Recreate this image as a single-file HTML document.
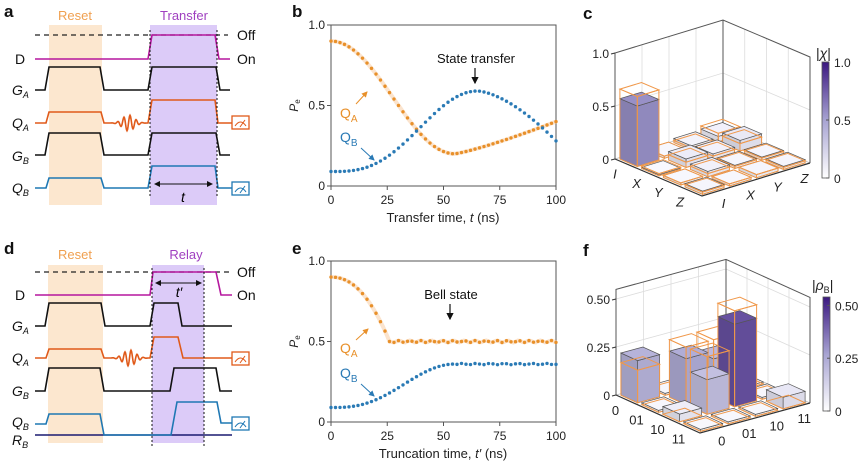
<!DOCTYPE html>
<html><head><meta charset="utf-8">
<style>
html,body{margin:0;padding:0;background:#fff;}
svg{display:block;font-family:"Liberation Sans","DejaVu Sans",sans-serif;}
</style></head>
<body>
<svg id="s" width="865" height="466" viewBox="0 0 865 466" xmlns="http://www.w3.org/2000/svg">
<defs>
<linearGradient id="cb" x1="0" y1="1" x2="0" y2="0">
<stop offset="0" stop-color="#ffffff"/><stop offset="0.5" stop-color="#a7a3d2"/><stop offset="1" stop-color="#3b1880"/>
</linearGradient>
<marker id="ah" markerWidth="6" markerHeight="6" refX="5" refY="3" orient="auto"><path d="M0,0 L6,3 L0,6 z" fill="#111"/></marker>
<marker id="aho" markerWidth="6" markerHeight="6" refX="5" refY="3" orient="auto"><path d="M0,0 L6,3 L0,6 z" fill="#e8902a"/></marker>
<marker id="ahb" markerWidth="6" markerHeight="6" refX="5" refY="3" orient="auto"><path d="M0,0 L6,3 L0,6 z" fill="#2a7ab5"/></marker>
<marker id="a2" markerWidth="6" markerHeight="6" refX="5" refY="3" orient="auto-start-reverse"><path d="M0,0 L6,3 L0,6 z" fill="#111"/></marker>
</defs>
<g font-weight="bold" font-size="17" fill="#111">
<text x="4" y="17">a</text><text x="292" y="17">b</text><text x="583" y="19">c</text>
<text x="4" y="254">d</text><text x="292" y="254">e</text><text x="583" y="256">f</text>
</g>
<!-- panel a -->
<rect x="49" y="25" width="53" height="180" fill="#fce7cf"/>
<rect x="150" y="25" width="67" height="180" fill="#dccbf8"/>
<text x="75" y="20" font-size="13" fill="#f0a050" text-anchor="middle">Reset</text>
<text x="184" y="20" font-size="13" fill="#a040c0" text-anchor="middle">Transfer</text>
<g fill="none" stroke-width="1.6">
<path d="M35,35 H228" stroke="#222" stroke-dasharray="5,4" stroke-width="1.2"/>
<path d="M35,59 H148 L152,35 H215 L219,59 H230" stroke="#b5179e"/>
<path d="M35,90 H45 L49,67 H100 L104,90 H148 L152,67 H216 L220,90 H230" stroke="#111"/>
<path id="qa1" stroke="#e05a1a"/>
<path d="M35,155 H45 L49,133 H100 L104,155 H148 L152,133 H216 L220,155 H230" stroke="#111"/>
<path d="M35,188 H46 L49,178 H101 L104,188 H148 L152,166 H215 L218,188 H232" stroke="#1f78b4"/>
<path d="M150,30 V198 M217,30 V198" stroke="#111" stroke-width="1" stroke-dasharray="2,2"/>
<path d="M155,184 H212" stroke="#111" stroke-width="1" marker-end="url(#a2)" marker-start="url(#a2)"/>
</g>
<text x="183" y="202" font-size="14" font-style="italic" text-anchor="middle">t</text>
<g font-size="14" fill="#111">
<text x="237" y="40">Off</text><text x="237" y="64">On</text>
<text x="15" y="64">D</text>
<text x="12" y="95" font-style="italic">G<tspan font-size="9" dy="3">A</tspan></text>
<text x="12" y="128" font-style="italic">Q<tspan font-size="9" dy="3">A</tspan></text>
<text x="12" y="161" font-style="italic">G<tspan font-size="9" dy="3">B</tspan></text>
<text x="12" y="193" font-style="italic">Q<tspan font-size="9" dy="3">B</tspan></text>
</g>
<!-- panel d -->
<rect x="48" y="265" width="55" height="178" fill="#fce7cf"/>
<rect x="152" y="265" width="52" height="178" fill="#dccbf8"/>
<text x="75" y="259" font-size="13" fill="#f0a050" text-anchor="middle">Reset</text>
<text x="186" y="259" font-size="13" fill="#a040c0" text-anchor="middle">Relay</text>
<g fill="none" stroke-width="1.6">
<path d="M35,272 H233" stroke="#222" stroke-dasharray="5,4" stroke-width="1.2"/>
<path d="M35,295 H150 L153,272 H216 L221,295 H232" stroke="#b5179e"/>
<path d="M35,326 H45 L49,303 H101 L105,326 H150 L154,303 H178 L182,326 H232" stroke="#111"/>
<path id="qa2" stroke="#e05a1a"/>
<path d="M35,391 H45 L49,368 H100 L104,391 H170 L174,368 H216 L220,391 H232" stroke="#111"/>
<path d="M35,435 H232" stroke="#1a1a70"/>
<path d="M35,424 H46 L49,414 H100 L104,435 H171 L177,402 H217 L221,423 H232" stroke="#1f78b4"/>
<path d="M152,268 V446 M204,268 V446" stroke="#111" stroke-width="1" stroke-dasharray="2,2"/>
<path d="M156,283 H201" stroke="#111" stroke-width="1" marker-end="url(#a2)" marker-start="url(#a2)"/>
</g>
<text x="179" y="297" font-size="14" font-style="italic" text-anchor="middle">t′</text>
<g font-size="14" fill="#111">
<text x="237" y="277">Off</text><text x="237" y="300">On</text>
<text x="15" y="300">D</text>
<text x="12" y="331" font-style="italic">G<tspan font-size="9" dy="3">A</tspan></text>
<text x="12" y="363" font-style="italic">Q<tspan font-size="9" dy="3">A</tspan></text>
<text x="12" y="396" font-style="italic">G<tspan font-size="9" dy="3">B</tspan></text>
<text x="12" y="427" font-style="italic">Q<tspan font-size="9" dy="3">B</tspan></text>
<text x="12" y="445" font-style="italic">R<tspan font-size="9" dy="3">B</tspan></text>
</g>
<g id="dyn"></g>
</svg>
<script>
const NS='http://www.w3.org/2000/svg';
const root=document.getElementById('dyn');
function el(tag,a,txt,parent){const e=document.createElementNS(NS,tag);for(const k in a)e.setAttribute(k,a[k]);if(txt!==undefined)e.textContent=txt;(parent||root).appendChild(e);return e;}
function wig(x0,x1,y){let s='';const c=(x0+x1)/2,w=(x1-x0);for(let x=x0;x<=x1;x+=0.5){const g=Math.exp(-Math.pow((x-c)/(w/4.5),2));s+=' L'+x.toFixed(1)+','+(y-8*g*Math.sin((x-c)/2.2*Math.PI/1.4)).toFixed(1);}return s;}
document.getElementById('qa1').setAttribute('d','M35,123 H46 L49,112 H101 L104,123 H110'+wig(110,147,123)+' H148 L152,100 H215 L218,123 H232');
document.getElementById('qa2').setAttribute('d','M35,358 H46 L49,349 H101 L104,358 H110'+wig(110,149,358)+' H150 L154,337 H178 L183,358 H232');
function meter(x,y,c){el('rect',{x:x,y:y,width:17,height:13,fill:'#fff',stroke:c,'stroke-width':1.3});el('path',{d:`M${x+3},${y+10} Q${x+8.5},${y+2} ${x+14},${y+10} M${x+8},${y+11} L${x+13},${y+4}`,fill:'none',stroke:c,'stroke-width':1});}
meter(232,116,'#e05a1a');meter(232,182,'#1f78b4');meter(232,352,'#e05a1a');meter(232,417,'#1f78b4');
function plot(top,fa,fb,xlabel,ann,annx){
 const x0=331,x1=556,y1=top,y0=top+161;
 const X=t=>x0+(x1-x0)*t/100, Y=p=>y0-(y0-y1)*p;
 el('rect',{x:x0,y:y1,width:x1-x0,height:y0-y1,fill:'none',stroke:'#555','stroke-width':1});
 [[0,'0'],[0.5,'0.5'],[1,'1.0']].forEach(([v,s])=>{el('line',{x1:x0,x2:x0-4,y1:Y(v),y2:Y(v),stroke:'#555'});el('text',{x:x0-6,y:Y(v)+4,'font-size':12,'text-anchor':'end',fill:'#222'},s);});
 [0,25,50,75,100].forEach(v=>{el('line',{x1:X(v),x2:X(v),y1:y0,y2:y0+4,stroke:'#555'});el('text',{x:X(v),y:y0+18,'font-size':12,'text-anchor':'middle',fill:'#222'},String(v));});
 const xl=el('text',{x:443,y:y0+36,'font-size':13,'text-anchor':'middle',fill:'#222'});xl.innerHTML=xlabel;
 const cy=(y0+y1)/2;
 const pl=el('text',{x:298,y:cy,'font-size':12,'font-style':'italic',fill:'#222',transform:`rotate(-90 298 ${cy})`,'text-anchor':'middle'});pl.innerHTML='P<tspan font-size="8" dy="2" font-style="normal">e</tspan>';
 let band='';for(let t=0;t<=100;t+=1){band+=(t?' L':'M')+X(t).toFixed(1)+','+Y(fa(t)).toFixed(1);}
 el('path',{d:band,fill:'none',stroke:'#f8d2ad','stroke-width':4,'stroke-opacity':0.6});
 for(let t=0;t<=100;t+=2){el('circle',{cx:X(t),cy:Y(fa(t)),r:1.7,fill:'#e8902a'});}
 for(let t=0;t<=100;t+=2){el('circle',{cx:X(t),cy:Y(fb(t)),r:1.7,fill:'#2a7ab5'});}
 el('text',{x:annx,y:top+38,'font-size':13,'text-anchor':'middle',fill:'#111'},ann);
 el('line',{x1:annx-1,x2:annx-1,y1:top+43,y2:top+58,stroke:'#111','stroke-width':1.2,'marker-end':'url(#ah)'});
}
plot(25,t=>t<=55?0.2+0.7*(1+Math.cos(Math.PI*t/55))/2:0.2+0.2*Math.pow((t-55)/45,1.2),
 t=>t<=65?0.09+0.5*Math.pow((1-Math.cos(Math.PI*t/65))/2,1.5):0.59-0.31*Math.pow((t-65)/35,1.6),
 'Transfer time, <tspan font-style="italic">t</tspan> (ns)','State transfer',476);
plot(261,t=>t<=26?0.5+0.4*(1-Math.pow(t/26,2.2)):0.5+0.006*Math.sin(t*1.3),
 t=>t<=55?0.09+0.27*Math.pow((1-Math.cos(Math.PI*t/55))/2,1.4):0.36+0.004*Math.sin(t),
 'Truncation time, <tspan font-style="italic">t′</tspan> (ns)','Bell state',451);
function lbl(x,y,c,s,ax1,ay1,ax2,ay2,m){const t=el('text',{x:x,y:y,'font-size':14,fill:c});t.innerHTML='Q<tspan font-size="10" dy="4">'+s+'</tspan>';el('line',{x1:ax1,y1:ay1,x2:ax2,y2:ay2,stroke:c,'stroke-width':1,'marker-end':'url(#'+m+')'});}
lbl(340,118,'#e8902a','A',356,104,367,92,'aho');lbl(340,142,'#2a7ab5','B',361,148,374,160,'ahb');
lbl(340,353,'#e8902a','A',356,340,368,329,'aho');lbl(340,378,'#2a7ab5','B',361,384,374,396,'ahb');
function lerp(a,b,t){return a+(b-a)*t;}
function col(v){const s=[[0,[250,250,255]],[0.5,[167,163,210]],[1,[59,24,128]]];v=Math.max(0,Math.min(1,v));let i=v<=0.5?0:1;const t=(v-s[i][0])/0.5;return s[i][1].map((x,k)=>Math.round(lerp(x,s[i+1][1][k],t)));}
function rgb(c,f){return 'rgb('+c.map(x=>Math.round(x*f)).join(',')+')';}
function bar3d(L,F,B,H,top,meas,ideal,vmax,ticks,rowl,coll,cbx,cby0,cby1,cbl,ital){
 const P=(u,v,h)=>[L[0]+u*(F[0]-L[0])+v*(B[0]-L[0]),L[1]+u*(F[1]-L[1])+v*(B[1]-L[1])-h*H];
 const pts=a=>a.map(p=>p[0].toFixed(1)+','+p[1].toFixed(1)).join(' ');
 const g='#dcdcdc';
 for(let i=1;i<4;i++){let p=P(0,i/4,0),q=P(0,i/4,top);el('line',{x1:p[0],y1:p[1],x2:q[0],y2:q[1],stroke:g,'stroke-width':0.8});
  p=P(i/4,1,0);q=P(i/4,1,top);el('line',{x1:p[0],y1:p[1],x2:q[0],y2:q[1],stroke:g,'stroke-width':0.8});}
 ticks.forEach(([v])=>{if(v>0&&v<top){let a=P(0,0,v),m=P(0,1,v),c=P(1,1,v);el('polyline',{points:pts([a,m,c]),fill:'none',stroke:g,'stroke-width':0.8});}});
 const bt=P(0,1,0),btop=P(0,1,top),lt=P(0,0,top),rt=P(1,1,top),rb=P(1,1,0);
 el('polyline',{points:pts([L,bt,rb]),fill:'none',stroke:'#bbb','stroke-width':0.8});
 el('polyline',{points:pts([L,lt,btop,rt,rb]),fill:'none',stroke:'#555','stroke-width':1});
 el('line',{x1:bt[0],y1:bt[1],x2:btop[0],y2:btop[1],stroke:'#555','stroke-width':1});
 el('polyline',{points:pts([L,F,rb]),fill:'none',stroke:'#333','stroke-width':1.2});
 ticks.forEach(([v,s])=>{const p=P(0,0,v);el('line',{x1:p[0],y1:p[1],x2:p[0]-4,y2:p[1]+1,stroke:'#333'});el('text',{x:p[0]-6,y:p[1]+5,'font-size':12,'text-anchor':'end',fill:'#222'},s);});
 const order=[];for(let r=0;r<4;r++)for(let c=0;c<4;c++)order.push([r,c]);
 order.sort((a,b)=>(a[0]-a[1])-(b[0]-b[1]));
 order.forEach(([r,c])=>{
  const uc=(r+0.5)/4, vc=(c+0.5)/4, d=0.1;
  const a0=uc-d,a1=uc+d,b0=vc-d,b1=vc+d;
  const h=Math.max(meas[r][c],0.004),hi=ideal[r][c];
  const cc=col(meas[r][c]/vmax);
  const box=(hh,fill,stroke,sw)=>{
   el('polygon',{points:pts([P(a1,b0,0),P(a1,b1,0),P(a1,b1,hh),P(a1,b0,hh)]),fill:fill?rgb(cc,0.95):'none',stroke:stroke,'stroke-width':sw});
   el('polygon',{points:pts([P(a0,b0,0),P(a1,b0,0),P(a1,b0,hh),P(a0,b0,hh)]),fill:fill?rgb(cc,0.88):'none',stroke:stroke,'stroke-width':sw});
   el('polygon',{points:pts([P(a0,b0,hh),P(a1,b0,hh),P(a1,b1,hh),P(a0,b1,hh)]),fill:fill?rgb(cc,1):'none',stroke:stroke,'stroke-width':sw});
  };
  box(h,true,'#555',0.7);box(hi,false,'#f0984a',1);
 });
 rowl.forEach((s,i)=>{const p=P((i+0.5)/4,0,0);el('text',{x:p[0]-11,y:p[1]+15,'font-size':13,'font-style':ital?'italic':'normal','text-anchor':'middle',fill:'#222'},s);});
 coll.forEach((s,i)=>{const p=P(1,(i+0.5)/4,0);el('text',{x:p[0]+8,y:p[1]+16,'font-size':13,'font-style':ital?'italic':'normal','text-anchor':'middle',fill:'#222'},s);});
 el('rect',{x:cbx,y:cby0,width:7,height:cby1-cby0,fill:'url(#cb)',stroke:'#555','stroke-width':0.8});
 cbl.forEach(([f,s])=>{const y=cby1-(cby1-cby0)*f;el('line',{x1:cbx+7,x2:cbx+4,y1:y,y2:y,stroke:'#555'});el('text',{x:cbx+12,y:y+5,'font-size':12,fill:'#222'},s);});
}
bar3d([615,159],[702,196],[723,126],106,1.0,
 [[0.57,0.02,0.04,0.05],[0.01,0.08,0.05,0.10],[0.02,0.05,0.03,0.03],[0.03,0.02,0.03,0.03]],
 [[0.66,0.02,0.02,0.08],[0.02,0.05,0.03,0.07],[0.02,0.03,0.02,0.02],[0.02,0.02,0.03,0.02]],1.0,
 [[0,'0'],[0.5,'0.5'],[1.0,'1.0']],['I','X','Y','Z'],['I','X','Y','Z'],822,62,178,[[0,'0'],[0.5,'0.5'],[1,'1.0']],true);
const cl=el('text',{x:816,y:58,'font-size':14,fill:'#222'});cl.innerHTML='|<tspan font-style="italic">χ</tspan>|';
bar3d([616,395],[700,433],[726,365],192,0.55,
 [[0.22,0.01,0.01,0.01],[0.01,0.24,0.20,0.01],[0.04,0.18,0.43,0.01],[0.01,0.01,0.01,0.06]],
 [[0.17,0.0,0.0,0.0],[0.0,0.30,0.30,0.0],[0.0,0.30,0.50,0.0],[0.0,0.0,0.0,0.0]],0.54,
 [[0,'0'],[0.25,'0.25'],[0.5,'0.50']],['0','01','10','11'],['0','01','10','11'],823,297,411,[[0,'0'],[0.25/0.54,'0.25'],[0.5/0.54,'0.50']],false);
const fl=el('text',{x:812,y:290,'font-size':14,fill:'#222'});fl.innerHTML='|<tspan font-style="italic">ρ</tspan><tspan font-size="9" dy="3">B</tspan><tspan dy="-3">|</tspan>';
</script>
</body></html>
